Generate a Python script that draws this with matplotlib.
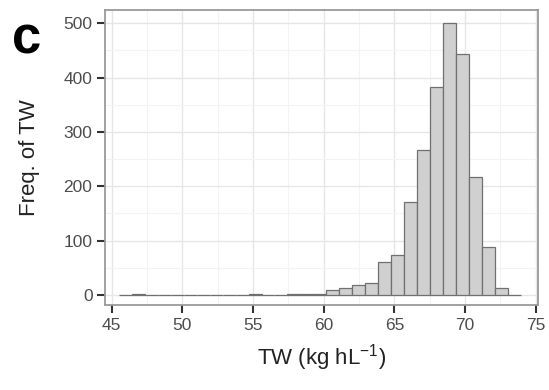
import matplotlib
matplotlib.use('Agg')
import matplotlib.pyplot as plt
from matplotlib.ticker import MultipleLocator

# histogram of test weight (TW)
bin_edges = [45.52, 46.44, 47.36, 48.27, 49.19, 50.11, 51.02, 51.94, 52.86, 53.77,
             54.69, 55.61, 56.52, 57.44, 58.36, 59.27, 60.19, 61.11, 62.02, 62.94,
             63.86, 64.77, 65.69, 66.61, 67.52, 68.44, 69.36, 70.27, 71.19, 72.11,
             73.02, 73.94]
counts = [0, 2, 0, 0, 0, 0, 0, 0, 0, 0,
          1, 0, 0, 1, 1, 2, 9, 12, 19, 23,
          60, 74, 171, 266, 382, 500, 443, 218, 89, 13,
          0]
x_ticks = [45, 50, 55, 60, 65, 70, 75]
y_ticks = [0, 100, 200, 300, 400, 500]

plt.rcParams['font.family'] = ['Liberation Sans', 'DejaVu Sans']
plt.rcParams['mathtext.fontset'] = 'custom'
plt.rcParams['mathtext.rm'] = 'Liberation Sans'

fig = plt.figure(figsize=(5.49, 3.90), dpi=100)
ax = fig.add_axes([105 / 549, 1 - 305 / 390, 432.7 / 549, 295 / 390])

lefts = bin_edges[:-1]
widths = [b - a for a, b in zip(bin_edges[:-1], bin_edges[1:])]
ax.bar(lefts, counts, width=widths, align='edge', color='#d0d0d0',
       edgecolor='#707070', linewidth=0.9, zorder=3)

ax.set_xlim(44.53, 75.14)
ax.set_ylim(-18.4, 524.5)
ax.set_xticks(x_ticks)
ax.set_yticks(y_ticks)
ax.xaxis.set_minor_locator(MultipleLocator(2.5))
ax.yaxis.set_minor_locator(MultipleLocator(50))

ax.grid(which='major', color='#e6e6e6', linewidth=1.0, zorder=0)
ax.grid(which='minor', color='#f3f3f3', linewidth=0.8, zorder=0)
ax.set_axisbelow(True)

for s in ax.spines.values():
    s.set_color('#9a9a9a')
    s.set_linewidth(1.3)

ax.tick_params(which='major', direction='out', length=6, width=1.5,
               color='#333333', labelsize=12.5, labelcolor='#4d4d4d', pad=3)
ax.tick_params(which='minor', length=0)

ax.set_xlabel('TW (kg hL$^{\\mathregular{-1}}$)', fontsize=16, color='#222222',
              va='center')
ax.set_ylabel('Freq. of TW', fontsize=16, color='#222222', va='center')
ax.xaxis.set_label_coords(0.5, (305 - 358) / 295)
ax.yaxis.set_label_coords((30 - 105) / 432.7, 0.5)

fig.text(27 / 549, 1 - 40 / 390, 'c', fontsize=38, fontweight='bold',
         ha='center', va='center', color='black')

fig.savefig('out.png', dpi=100)
